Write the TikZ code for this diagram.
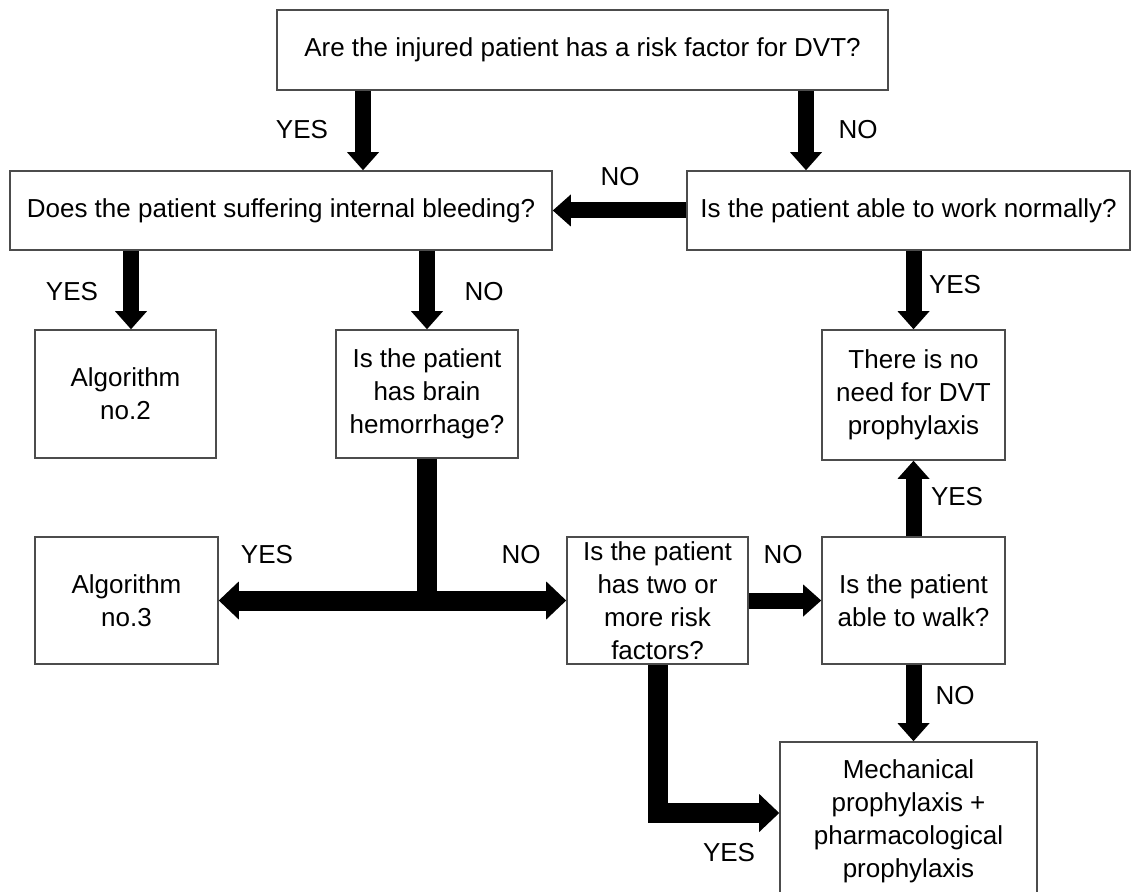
\documentclass[tikz,border=0pt]{standalone}
\usepackage{fontspec}
\setmainfont{Liberation Sans}
\usetikzlibrary{arrows.meta}

\begin{document}
\begin{tikzpicture}[x=0.5pt, y=-0.5pt,
font=\fontsize{13}{16.5}\selectfont,
squarednode/.style={rectangle, draw=black!70, line width=0.8pt, fill=white, align=center, inner sep=0pt},
answer/.style={inner sep=0pt},
thickarrow/.style={line width=8pt, -{Triangle[width=16pt, length=9pt, line width=0pt]}},
widearrow/.style={line width=10pt, -{Triangle[width=19pt, length=10pt, line width=0pt]}},
widebar/.style={line width=10pt}
]
\path[use as bounding box, fill=white] (0,0) rectangle (1138,892);

%Nodes
\node[squarednode, minimum width=305.5pt, minimum height=40pt] (dvtrisk) at (582.5,50) {Are the injured patient has a risk factor for DVT?};
\node[squarednode, minimum width=271pt, minimum height=39.5pt] (bleeding) at (281,210.5) {Does the patient suffering internal bleeding?};
\node[squarednode, minimum width=221.5pt, minimum height=39.5pt] (work) at (908.5,210.5) {Is the patient able to work normally?};
\node[squarednode, minimum width=90.5pt, minimum height=64pt] (algtwo) at (125.5,394) {Algorithm\\no.2};
\node[squarednode, minimum width=91pt, minimum height=64pt] (brain) at (427,394) {Is the patient\\has brain\\hemorrhage?};
\node[squarednode, minimum width=91.5pt, minimum height=65pt] (noneed) at (913.5,395) {There is no\\need for DVT\\prophylaxis};
\node[squarednode, minimum width=91.5pt, minimum height=63.5pt] (algthree) at (126.5,600.5) {Algorithm\\no.3};
\node[squarednode, minimum width=90.5pt, minimum height=63.5pt] (tworisk) at (657.5,600.5) {Is the patient\\has two or\\more risk\\factors?};
\node[squarednode, minimum width=91.5pt, minimum height=63.5pt] (walk) at (913.5,600.5) {Is the patient\\able to walk?};
\node[squarednode, minimum width=128.5pt, minimum height=79pt] (prophylaxis) at (908.5,821) {Mechanical\\prophylaxis +\\pharmacological\\prophylaxis};

%Answers
\node[answer] (yes1) at (302,130) {YES};
\node[answer] (no1) at (858,130) {NO};
\node[answer] (no2) at (620,177) {NO};
\node[answer] (yes2) at (72,292) {YES};
\node[answer] (no3) at (484,292) {NO};
\node[answer] (yes3) at (955,285) {YES};
\node[answer] (yes4) at (267,555) {YES};
\node[answer] (no4) at (521,555) {NO};
\node[answer] (no5) at (783,555) {NO};
\node[answer] (yes5) at (957,497) {YES};
\node[answer] (no6) at (955,696) {NO};
\node[answer] (yes6) at (729,853) {YES};

%Lines
\draw[thickarrow] (dvtrisk.south -| 363,0) -- (bleeding.north -| 363,0);
\draw[thickarrow] (dvtrisk.south -| 806,0) -- (work.north -| 806,0);
\draw[thickarrow] (work.west) -- (bleeding.east);
\draw[thickarrow] (bleeding.south -| 131,0) -- (algtwo.north -| 131,0);
\draw[thickarrow] (bleeding.south -| brain.north) -- (brain.north);
\draw[thickarrow] (work.south -| noneed.north) -- (noneed.north);
\coordinate (split) at (brain.south |- tworisk.west);
\draw[widebar] (brain.south) -- (split);
\draw[widearrow] (split) -- (algthree.east);
\draw[widearrow] (split) -- (tworisk.west);
\draw[thickarrow] (tworisk.east) -- (walk.west);
\draw[thickarrow] (walk.north) -- (noneed.south);
\draw[thickarrow] (walk.south) -- (walk.south |- prophylaxis.north);
\draw[widearrow] (tworisk.south) |- ([yshift=4pt]prophylaxis.west);

\end{tikzpicture}
\end{document}
